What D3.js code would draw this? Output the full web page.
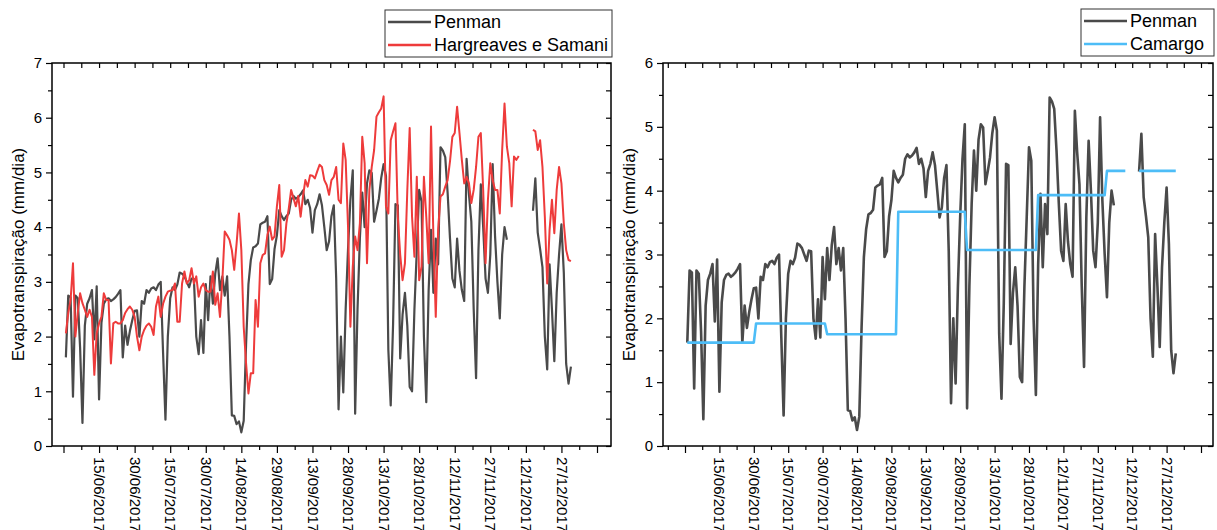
<!DOCTYPE html>
<html>
<head>
<meta charset="utf-8">
<script src="https://cdn.jsdelivr.net/npm/d3@7"></script>
<style>
  body { margin: 0; background: #fff; }
  svg text { font-family: Arial, "Liberation Sans", sans-serif; fill: #000; }
</style>
</head>
<body>
<svg id="chart" width="1217" height="530"></svg>
<script>
// daily series, first value is 01/06/2017 (null = no data)
const startDay = "2017-06-01";

const penman = [
  1.62, 2.75, 2.72, 0.9, 2.75, 2.7, 1.8, 0.42, 2.2, 2.6,
  2.7, 2.85, 1.95, 2.92, 0.85, 2.25, 2.6, 2.68, 2.7, 2.65,
  2.68, 2.72, 2.78, 2.85, 1.62, 2.2, 1.85, 2.1, 2.3, 2.47,
  2.48, 2.0, 2.65, 2.6, 2.85, 2.8, 2.88, 2.9, 2.85, 2.95,
  3.0, 1.7, 0.48, 2.0, 2.7, 2.9, 2.85, 2.95, 3.17, 3.15,
  3.1, 3.0, 2.9, 3.06, 3.05, 2.0, 1.68, 2.3, 1.7, 2.96,
  2.3, 3.1, 2.6, 3.15, 3.43, 2.85, 3.1, 2.75, 3.1, 2.0,
  0.56, 0.55, 0.4, 0.45, 0.25, 0.46, 1.86, 2.96, 3.4, 3.63,
  3.65, 3.7, 4.05, 4.08, 4.1, 4.2, 2.96, 3.05, 3.6, 3.85,
  4.31, 4.2, 4.13, 4.2, 4.25, 4.5, 4.57, 4.52, 4.55, 4.6,
  4.67, 4.42, 4.5, 4.35, 3.9, 4.31, 4.42, 4.6, 4.4, 4.0,
  3.58, 3.74, 4.2, 4.4, 3.06, 0.67, 2.0, 0.98, 2.5, 3.6,
  4.5, 5.04, 0.59, 2.5, 3.8, 4.63, 4.0, 4.8, 5.04, 4.99,
  4.1, 4.3, 4.52, 4.9, 5.15, 4.94, 1.76, 0.74, 2.23, 4.42,
  4.4, 1.6, 2.4, 2.8, 2.2, 1.08, 1.0, 2.5, 3.58, 4.68,
  4.47, 2.0, 0.8, 2.85, 3.95, 2.8, 3.79, 3.32, 5.46, 5.4,
  5.28, 4.63, 3.8, 3.06, 2.9, 3.79, 3.2, 2.85, 2.65, 5.25,
  4.6, 4.1, 2.5, 1.24, 3.58, 4.78, 4.0, 3.06, 2.8, 3.5,
  5.15, 3.84, 3.0, 2.33, 3.5, 4.0, 3.77, null, null, null,
  null, null, null, null, null, null, null, 4.3, 4.89, 3.9,
  3.6, 3.27, 2.0, 1.4, 3.32, 2.5, 1.55, 2.8, 3.5, 4.05,
  3.17, 1.5, 1.14, 1.45
];

const hargreaves = [
  2.06, 2.43, 2.67, 3.34, 2.0, 2.43, 2.79, 2.61, 2.49, 2.36,
  2.49, 2.36, 1.3, 2.06, 2.24, 2.36, 2.79, 2.67, 2.67, 1.51,
  2.24, 2.27, 2.24, 2.24, 2.3, 2.43, 2.5, 2.55, 2.49, 2.36,
  2.0, 1.75, 2.0, 2.12, 2.2, 2.24, 2.18, 2.03, 2.55, 2.73,
  2.36, 2.6, 2.73, 2.82, 2.84, 2.85, 2.97, 2.27, 2.27, 2.97,
  3.19, 2.97, 3.03, 3.25, 2.97, 3.1, 2.73, 2.9, 2.97, 2.85,
  2.82, 2.82, 3.19, 2.58, 2.79, 2.36, 3.03, 3.92, 3.85, 3.77,
  3.58, 3.22, 3.7, 4.25, 3.58, 2.18, 1.51, 0.96, 1.33, 1.33,
  2.67, 2.18, 3.34, 3.49, 3.52, 3.86, 4.01, 3.77, 3.83, 4.38,
  4.77, 3.46, 3.58, 4.07, 4.34, 4.68, 4.53, 4.38, 4.57, 4.19,
  4.56, 4.86, 4.74, 4.95, 4.94, 4.89, 5.02, 5.14, 5.1, 4.86,
  4.77, 4.59, 4.86, 4.92, 5.1, 4.5, 4.44, 5.53, 5.23, 4.01,
  2.18, 3.28, 3.83, 3.58, 4.07, 5.65, 5.17, 3.34, 4.68, 5.1,
  5.41, 6.02, 6.1, 6.17, 6.39, 4.38, 4.25, 5.59, 5.75, 5.9,
  4.19, 3.5, 3.03, 3.34, 4.68, 5.81, 4.19, 3.46, 4.92, 3.03,
  3.28, 4.92, 4.19, 3.34, 5.84, 3.83, 2.36, 3.95, 4.56, 4.6,
  4.74, 4.86, 5.2, 5.65, 5.72, 6.2, 5.72, 5.23, 4.8, 4.92,
  4.8, 4.44, 4.68, 5.1, 5.65, 5.72, 4.68, 3.34, 4.5, 5.17,
  4.86, 4.68, 4.68, 4.25, 5.41, 6.26, 5.47, 5.17, 4.38, 5.29,
  5.23, 5.3, null, null, null, null, null, 5.78, 5.75, 5.41,
  5.59, 5.1, 4.19, 2.97, 3.95, 4.5, 3.89, 4.68, 5.1, 4.8,
  4.07, 3.58, 3.4, 3.38
];

// Camargo: one value per month, no data between these two days
const camargoMonths = ["2017-06", "2017-07", "2017-08", "2017-09", "2017-10", "2017-11", "2017-12"];
const camargoValues = [1.62, 1.92, 1.75, 3.67, 3.07, 3.93, 4.31];
const camargoGap = ["2017-12-10", "2017-12-14"];

// x axis: major ticks every 15 days, only some of them carry a label
const majorTicks = [
  "2017-05-31", "2017-06-15", "2017-06-30", "2017-07-15", "2017-07-30", "2017-08-14",
  "2017-08-29", "2017-09-13", "2017-09-28", "2017-10-13", "2017-10-28", "2017-11-12",
  "2017-11-27", "2017-12-12", "2017-12-27", "2018-01-11"
];
const tickLabels = [
  "15/06/2017", "30/06/2017", "15/07/2017", "30/07/2017", "14/08/2017", "29/08/2017",
  "13/09/2017", "28/09/2017", "13/10/2017", "28/10/2017", "12/11/2017", "27/11/2017",
  "12/12/2017", "27/12/2017"
];

const yTitle = "Evapotranspiração (mm/dia)";

const parse = d3.timeParse("%Y-%m-%d");
const fmt = d3.timeFormat("%d/%m/%Y");
const monthKey = d3.timeFormat("%Y-%m");
const t0 = parse(startDay);

// build {date, v} rows
const toRows = (arr) => arr.map((v, i) => ({ date: d3.timeDay.offset(t0, i), v: v }));
const penmanRows = toRows(penman);
const hargRows = toRows(hargreaves);
const gapA = parse(camargoGap[0]), gapB = parse(camargoGap[1]);
const camargoRows = penman.map((_, i) => {
  const date = d3.timeDay.offset(t0, i);
  const k = camargoMonths.indexOf(monthKey(date));
  const v = (date >= gapA && date <= gapB) ? null : camargoValues[k];
  return { date: date, v: v };
});

const svg = d3.select("#chart");

function drawPanel(o) {
  const majors = majorTicks.map(parse);
  const x = d3.scaleTime()
    .domain([majors[0], majors[majors.length - 1]])
    .range(o.tickRange);
  const y = d3.scaleLinear().domain([0, o.yMax]).range([o.bottom, o.top]);

  // minor ticks halfway between majors (7.5 days), plus one before the first
  const half = 7.5 * 864e5;
  const minors = [new Date(+majors[0] - half)]
    .concat(majors.slice(0, -1).map((d) => new Date(+d + half)))
    .filter((d) => x(d) > o.left && x(d) < o.right);
  const allX = majors.concat(minors);

  const g = svg.append("g").attr("class", "panel");

  // series
  const line = d3.line()
    .defined((d) => d.v != null)
    .x((d) => x(d.date))
    .y((d) => y(d.v));

  o.series.forEach((s) => {
    g.append("path")
      .datum(s.rows)
      .attr("fill", "none")
      .attr("stroke", s.color)
      .attr("stroke-width", s.width)
      .attr("stroke-linejoin", "round")
      .attr("d", line);
  });

  // bottom axis (outward)
  const xAxisG = g.append("g").attr("transform", `translate(0,${o.bottom})`);
  xAxisG.call(
    d3.axisBottom(x)
      .tickValues(majors)
      .tickSize(7)
      .tickFormat((d) => (tickLabels.includes(fmt(d)) ? fmt(d) : ""))
  );
  xAxisG.selectAll("text")
    .attr("transform", "rotate(90)")
    .attr("x", 11)
    .attr("y", 0)
    .attr("dy", "0.36em")
    .style("text-anchor", "start")
    .style("font-size", "15px");
  const xMinorG = g.append("g").attr("transform", `translate(0,${o.bottom})`);
  xMinorG.call(d3.axisBottom(x).tickValues(minors).tickSize(4).tickFormat(""));

  // top axis (inward)
  const topG = g.append("g").attr("transform", `translate(0,${o.top})`);
  topG.call(d3.axisTop(x).tickValues(allX).tickSize(-5).tickFormat(""));

  // left axis (outward)
  const yAxisG = g.append("g").attr("transform", `translate(${o.left},0)`);
  yAxisG.call(d3.axisLeft(y).ticks(o.yMax).tickSize(6).tickPadding(4));
  yAxisG.selectAll("text").style("font-size", "15px");
  const yMinor = d3.range(0.5, o.yMax, 1);
  g.append("g").attr("transform", `translate(${o.left},0)`)
    .call(d3.axisLeft(y).tickValues(yMinor).tickSize(4).tickFormat(""));

  // right axis (inward)
  g.append("g").attr("transform", `translate(${o.right},0)`)
    .call(d3.axisRight(y).tickValues(d3.range(0, o.yMax + 0.01, 0.5)).tickSize(-5).tickFormat(""));

  g.selectAll(".domain").remove();
  g.selectAll(".tick line").attr("stroke", "#000").attr("stroke-width", 1.2);

  // frame
  g.append("rect")
    .attr("x", o.left)
    .attr("y", o.top)
    .attr("width", o.right - o.left)
    .attr("height", o.bottom - o.top)
    .attr("fill", "none")
    .attr("stroke", "#000")
    .attr("stroke-width", 1.5);

  // y title
  g.append("text")
    .attr("transform", `translate(${o.titleX},${(o.top + o.bottom) / 2}) rotate(-90)`)
    .attr("text-anchor", "middle")
    .attr("dy", "0.35em")
    .style("font-size", "17px")
    .text(yTitle);

  // legend
  const lg = g.append("g").attr("transform", `translate(${o.legend.x},${o.legend.y})`);
  lg.append("rect")
    .attr("width", o.legend.w)
    .attr("height", 47)
    .attr("fill", "#fff")
    .attr("stroke", "#333")
    .attr("stroke-width", 1);
  o.series.forEach((s, i) => {
    const row = lg.append("g").attr("transform", `translate(0,${12 + i * 23})`);
    row.append("line")
      .attr("x1", 3).attr("x2", 46)
      .attr("stroke", s.color)
      .attr("stroke-width", 2.5);
    row.append("text")
      .attr("x", 49)
      .attr("dy", "0.35em")
      .style("font-size", "18px")
      .text(s.name);
  });
}

drawPanel({
  left: 52, right: 611, top: 63, bottom: 446,
  tickRange: [63.5, 597],
  yMax: 7,
  titleX: 18,
  legend: { x: 385, y: 10, w: 227 },
  series: [
    { name: "Penman", rows: penmanRows, color: "#4a4a4a", width: 2.2 },
    { name: "Hargreaves e Samani", rows: hargRows, color: "#ee3b3b", width: 2 }
  ]
});

drawPanel({
  left: 663, right: 1213, top: 63, bottom: 446,
  tickRange: [685, 1201],
  yMax: 6,
  titleX: 629,
  legend: { x: 1081, y: 9, w: 133 },
  series: [
    { name: "Penman", rows: penmanRows, color: "#4a4a4a", width: 2.6 },
    { name: "Camargo", rows: camargoRows, color: "#4dbdf7", width: 2.6 }
  ]
});
</script>
</body>
</html>
